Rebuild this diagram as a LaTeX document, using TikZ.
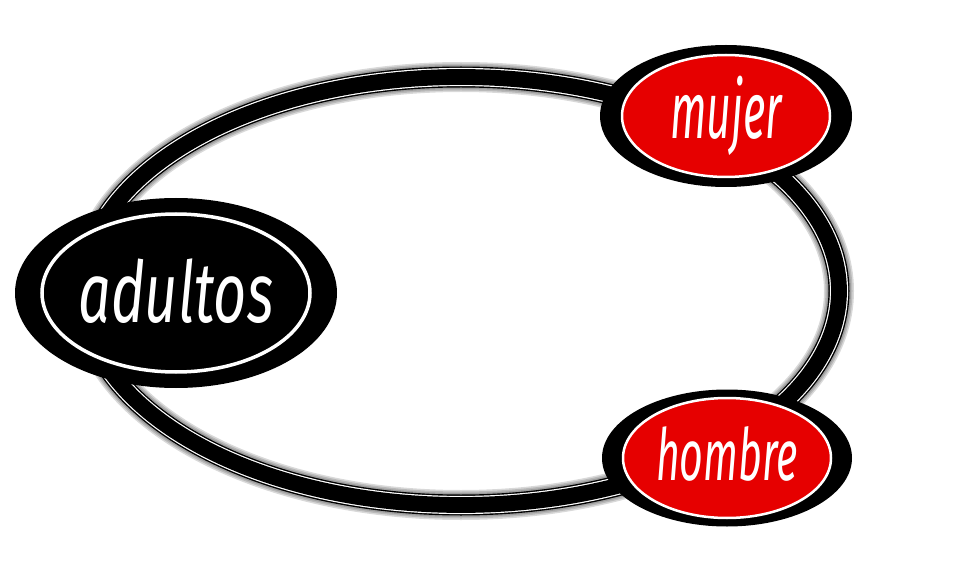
\documentclass[tikz,border=0pt]{standalone}
\usepackage{fontspec}
\usepackage{graphicx}
\newfontfamily\handfont{Fira Sans}
\usetikzlibrary{shapes.geometric, positioning}
\definecolor{boxred}{RGB}{230, 0, 0}

\tikzset{
  blackdisc/.style={ellipse, fill=black, inner sep=0pt},
  innerring/.style={ellipse, draw=white, inner sep=0pt},
  ringglow/.style={line width=#1, black, opacity=0.15},
}
\newcommand{\hand}[4]{\raisebox{#4}{\makebox[0pt]{\resizebox{#1}{\height}{\fontsize{#2}{#2}\selectfont\handfont\itshape #3}}}}

\begin{document}
\begin{tikzpicture}[x=1pt, y=-1pt]
  \useasboundingbox (0,0) rectangle (972,564);

  % Ring
  \coordinate (ringc) at (461,291);
  \draw[ringglow=30pt] (ringc) ellipse [x radius=378pt, y radius=214pt];
  \draw[ringglow=27pt] (ringc) ellipse [x radius=378pt, y radius=214pt];
  \draw[ringglow=24pt] (ringc) ellipse [x radius=378pt, y radius=214pt];
  \draw[line width=21pt, black] (ringc) ellipse [x radius=378pt, y radius=214pt];
  \draw[draw=white, line width=1.2pt, double=black, double distance=15.8pt] (ringc) ellipse [x radius=378pt, y radius=214pt];

  % Adultos
  \node[blackdisc, minimum width=322pt, minimum height=190pt] (adultosback) at (176,293) {};
  \node[innerring, line width=3.5pt, minimum width=268pt, minimum height=158pt, text=white] (adultos) at (adultosback.center) {\hand{195pt}{85pt}{adultos}{5pt}};

  % Mujer
  \node[blackdisc, minimum width=252pt, minimum height=142pt] (mujerback) at (726,116) {};
  \node[innerring, fill=boxred, line width=2.5pt, minimum width=208pt, minimum height=122pt, text=white] (mujer) at (mujerback.center) {\hand{112pt}{80pt}{mujer}{9pt}};

  % Hombre
  \node[blackdisc, minimum width=250pt, minimum height=137pt] (hombreback) at (727,458) {};
  \node[innerring, fill=boxred, line width=2.5pt, minimum width=208pt, minimum height=120pt, text=white] (hombre) at (hombreback.center) {\hand{142pt}{72pt}{hombre}{10pt}};
\end{tikzpicture}
\end{document}
